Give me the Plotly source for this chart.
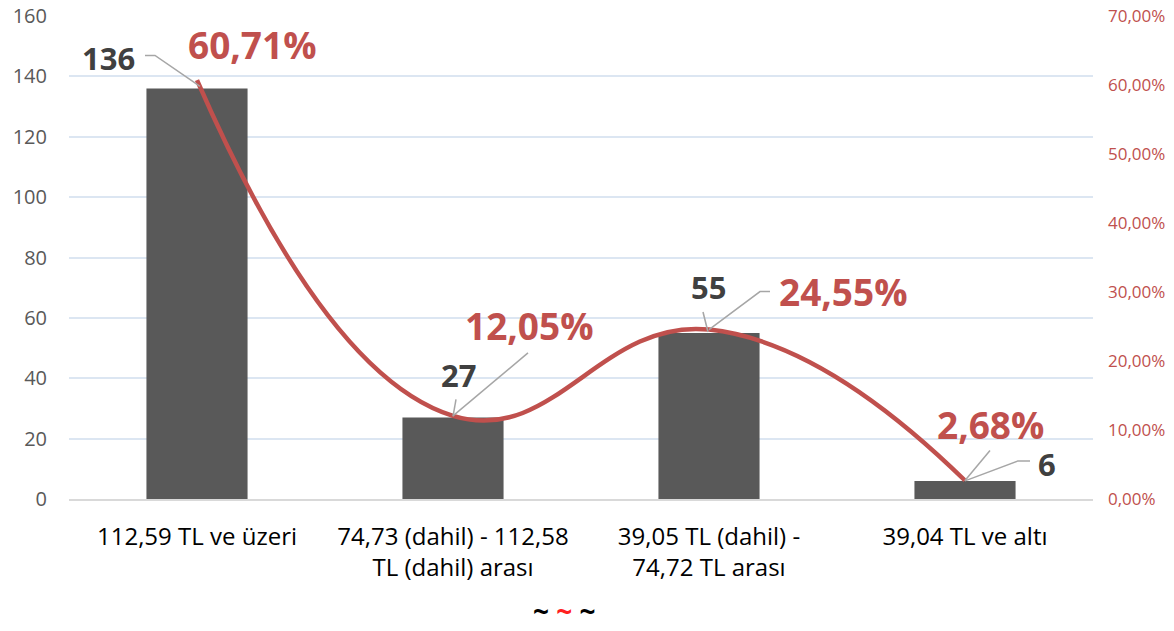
import plotly.graph_objects as go

categories = ["112,59 TL ve üzeri", "74,73 (dahil) - 112,58<br>TL (dahil) arası",
              "39,05 TL (dahil) -<br>74,72 TL arası", "39,04 TL ve altı"]
counts = [136, 27, 55, 6]
shares = [0.6071, 0.1205, 0.2455, 0.0268]
count_labels = ["136", "27", "55", "6"]
share_labels = ["60,71%", "12,05%", "24,55%", "2,68%"]

BAR = "#595959"
RED = "#C0504D"
LBL = "#404040"
GRID = "#DCE6F2"
LEAD = "#A6A6A6"
FONT = "Open Sans"

# label offsets (pixels) relative to anchor points
cnt_shift = [(-89, 30), (5, 42), (-1, 46), (82, 17)]
pct_shift = [(55, 36), (76, 90), (134, 38), (25, 56)]
# leader paths (pixels, y up) relative to anchor
cnt_path = ["M -52,33 L -42,33 L 3,2", "M 3,18 L 0,1", "M -6,21 L -1,1", "M 65,20 L 53,20 L 0,0"]
pct_path = [None, "M 75,63 L 0,0", "M 61,38 L 51,38 L 0,0", "M 25,30 L 0,0"]

fig = go.Figure()
fig.add_trace(go.Bar(x=categories, y=counts, marker=dict(color=BAR, line=dict(width=0)),
                     yaxis="y", showlegend=False, hoverinfo="skip"))
fig.add_trace(go.Scatter(x=categories, y=shares, mode="lines", yaxis="y2",
                         line=dict(color=RED, width=4.5, shape="spline", smoothing=1.3),
                         showlegend=False, hoverinfo="skip"))

ann = []
shapes = []
for i, c in enumerate(categories):
    dx, dy = cnt_shift[i]
    ann.append(dict(x=c, y=counts[i], xref="x", yref="y", text="<b>%s</b>" % count_labels[i],
                    showarrow=False, xshift=dx, yshift=dy,
                    font=dict(family=FONT, size=31, color=LBL)))
    dx, dy = pct_shift[i]
    ann.append(dict(x=c, y=shares[i], xref="x", yref="y2", text="<b>%s</b>" % share_labels[i],
                    showarrow=False, xshift=dx, yshift=dy,
                    font=dict(family=FONT, size=37, color=RED)))
    shapes.append(dict(type="path", xref="x", yref="y", xsizemode="pixel", ysizemode="pixel",
                       xanchor=i, yanchor=counts[i], path=cnt_path[i],
                       line=dict(color=LEAD, width=1.5), layer="above"))
    if pct_path[i]:
        shapes.append(dict(type="path", xref="x", yref="y2", xsizemode="pixel", ysizemode="pixel",
                           xanchor=i, yanchor=shares[i], path=pct_path[i],
                           line=dict(color=LEAD, width=1.5), layer="above"))

ann.append(dict(x=0.484, y=-0.276, xref="paper", yref="paper", showarrow=False,
                text="<b>~ <span style='color:#FF2020'>~</span> ~</b>",
                font=dict(family=FONT, size=28, color="#000000")))

fig.update_layout(
    width=1174, height=631,
    margin=dict(l=69, r=81, t=16, b=132, autoexpand=False),
    paper_bgcolor="white", plot_bgcolor="white",
    separators=",.",
    bargap=0.605,
    font=dict(family=FONT),
    xaxis=dict(showgrid=False, showline=True, linecolor="#D9D9D9", linewidth=2,
               ticks="", tickfont=dict(family=FONT, size=24, color="#000000"),
               ticklabelstandoff=15, automargin=False),
    yaxis=dict(range=[0, 160.0001], tick0=0, dtick=20, showgrid=True, gridcolor=GRID, gridwidth=1.5,
               zeroline=False, showline=False, ticks="", automargin=False,
               ticklabeloverflow="allow",
               tickfont=dict(family=FONT, size=20, color="#595959"), ticklabelstandoff=21),
    yaxis2=dict(range=[0, 0.7000004], tick0=0, dtick=0.10, tickformat=".2%", overlaying="y", side="right",
                showgrid=False, zeroline=False, showline=False, ticks="", automargin=False,
                ticklabeloverflow="allow",
                tickfont=dict(family=FONT, size=17, color=RED), ticklabelstandoff=14),
    annotations=ann, shapes=shapes,
)

fig.write_html("out.html", config={"displayModeBar": False},
               post_script="document.body.style.margin='0px';")
